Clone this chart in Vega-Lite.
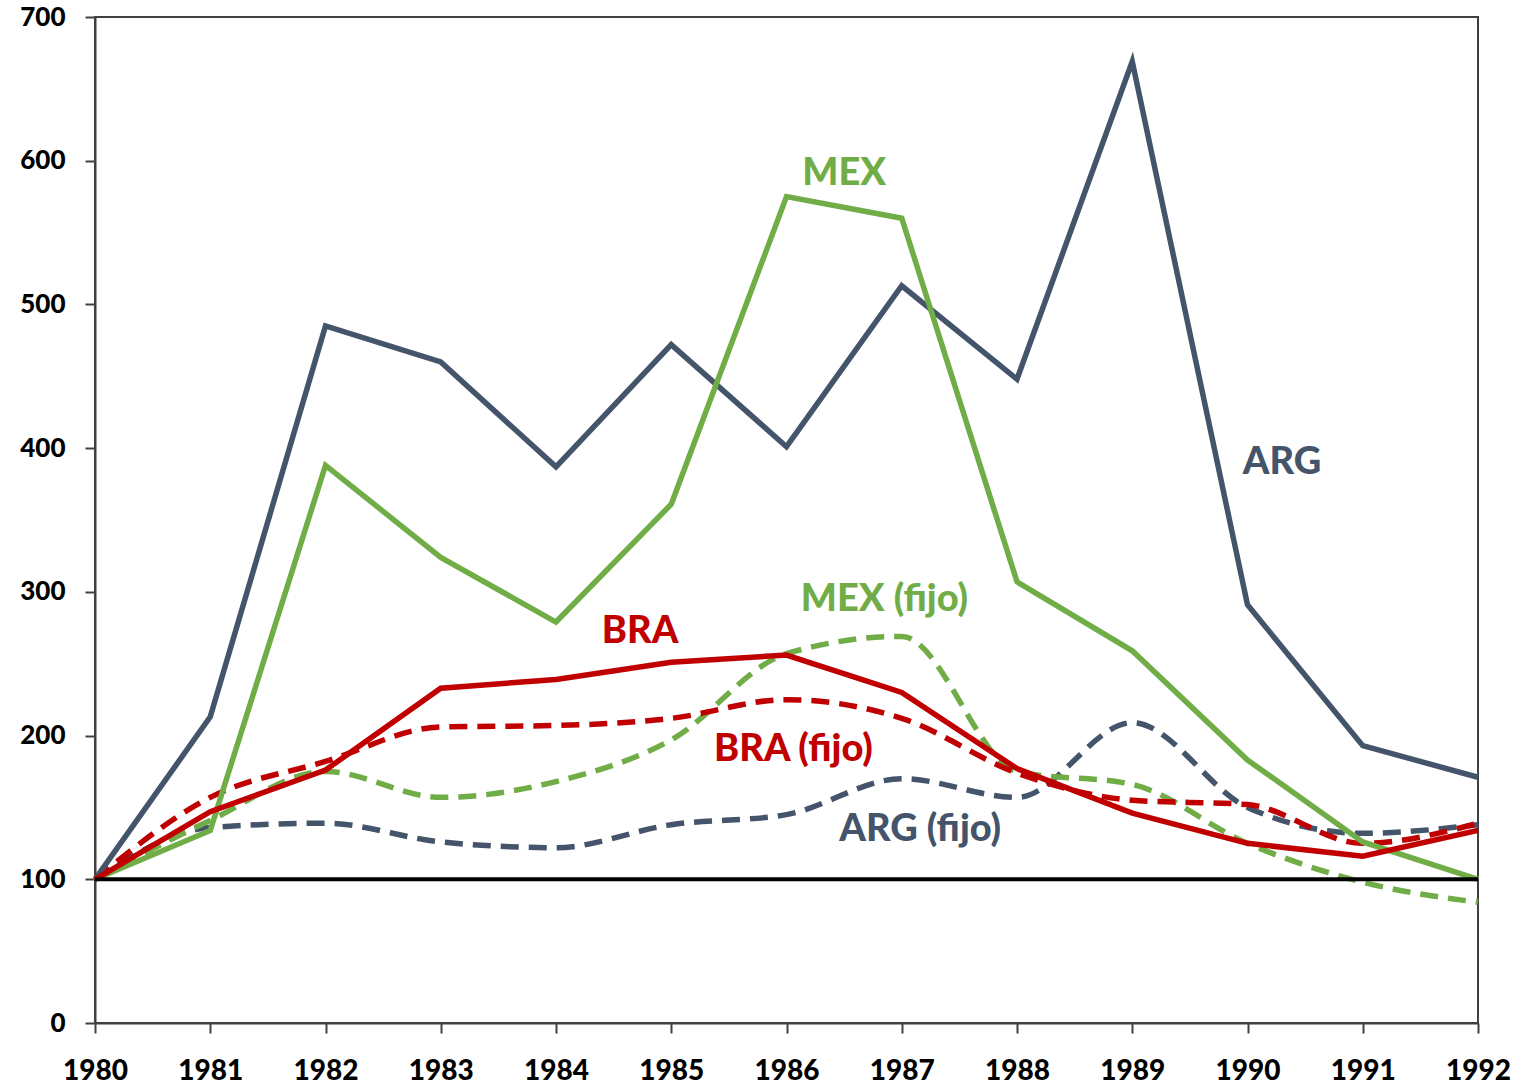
{
  "$schema": "https://vega.github.io/schema/vega-lite/v6.json",
  "width": 1383,
  "height": 1006,
  "autosize": {"type": "none"},
  "padding": {"left": 95, "top": 17, "right": 38, "bottom": 66},
  "background": "white",
  "config": {
    "view": {"stroke": "#404040", "strokeWidth": 2},
    "font": "Lato"
  },
  "datasets": {
    "series": [
      {"serie": "ARG", "tipo": "total", "year": 1980, "value": 100},
      {"serie": "ARG", "tipo": "total", "year": 1981, "value": 213},
      {"serie": "ARG", "tipo": "total", "year": 1982, "value": 485},
      {"serie": "ARG", "tipo": "total", "year": 1983, "value": 460},
      {"serie": "ARG", "tipo": "total", "year": 1984, "value": 387},
      {"serie": "ARG", "tipo": "total", "year": 1985, "value": 472},
      {"serie": "ARG", "tipo": "total", "year": 1986, "value": 401},
      {"serie": "ARG", "tipo": "total", "year": 1987, "value": 513},
      {"serie": "ARG", "tipo": "total", "year": 1988, "value": 448},
      {"serie": "ARG", "tipo": "total", "year": 1989, "value": 669},
      {"serie": "ARG", "tipo": "total", "year": 1990, "value": 291},
      {"serie": "ARG", "tipo": "total", "year": 1991, "value": 193},
      {"serie": "ARG", "tipo": "total", "year": 1992, "value": 171},
      {"serie": "MEX", "tipo": "total", "year": 1980, "value": 100},
      {"serie": "MEX", "tipo": "total", "year": 1981, "value": 134},
      {"serie": "MEX", "tipo": "total", "year": 1982, "value": 388},
      {"serie": "MEX", "tipo": "total", "year": 1983, "value": 324},
      {"serie": "MEX", "tipo": "total", "year": 1984, "value": 279},
      {"serie": "MEX", "tipo": "total", "year": 1985, "value": 361},
      {"serie": "MEX", "tipo": "total", "year": 1986, "value": 575},
      {"serie": "MEX", "tipo": "total", "year": 1987, "value": 560},
      {"serie": "MEX", "tipo": "total", "year": 1988, "value": 307},
      {"serie": "MEX", "tipo": "total", "year": 1989, "value": 259},
      {"serie": "MEX", "tipo": "total", "year": 1990, "value": 183},
      {"serie": "MEX", "tipo": "total", "year": 1991, "value": 126},
      {"serie": "MEX", "tipo": "total", "year": 1992, "value": 100},
      {"serie": "BRA", "tipo": "total", "year": 1980, "value": 100},
      {"serie": "BRA", "tipo": "total", "year": 1981, "value": 147},
      {"serie": "BRA", "tipo": "total", "year": 1982, "value": 176},
      {"serie": "BRA", "tipo": "total", "year": 1983, "value": 233},
      {"serie": "BRA", "tipo": "total", "year": 1984, "value": 239},
      {"serie": "BRA", "tipo": "total", "year": 1985, "value": 251},
      {"serie": "BRA", "tipo": "total", "year": 1986, "value": 256},
      {"serie": "BRA", "tipo": "total", "year": 1987, "value": 230},
      {"serie": "BRA", "tipo": "total", "year": 1988, "value": 177},
      {"serie": "BRA", "tipo": "total", "year": 1989, "value": 146},
      {"serie": "BRA", "tipo": "total", "year": 1990, "value": 125},
      {"serie": "BRA", "tipo": "total", "year": 1991, "value": 116},
      {"serie": "BRA", "tipo": "total", "year": 1992, "value": 134},
      {"serie": "ARG", "tipo": "fijo", "year": 1980, "value": 100},
      {"serie": "ARG", "tipo": "fijo", "year": 1981, "value": 136},
      {"serie": "ARG", "tipo": "fijo", "year": 1982, "value": 139},
      {"serie": "ARG", "tipo": "fijo", "year": 1983, "value": 126},
      {"serie": "ARG", "tipo": "fijo", "year": 1984, "value": 122},
      {"serie": "ARG", "tipo": "fijo", "year": 1985, "value": 138},
      {"serie": "ARG", "tipo": "fijo", "year": 1986, "value": 145},
      {"serie": "ARG", "tipo": "fijo", "year": 1987, "value": 170},
      {"serie": "ARG", "tipo": "fijo", "year": 1988, "value": 157},
      {"serie": "ARG", "tipo": "fijo", "year": 1989, "value": 209},
      {"serie": "ARG", "tipo": "fijo", "year": 1990, "value": 150},
      {"serie": "ARG", "tipo": "fijo", "year": 1991, "value": 132},
      {"serie": "ARG", "tipo": "fijo", "year": 1992, "value": 138},
      {"serie": "MEX", "tipo": "fijo", "year": 1980, "value": 100},
      {"serie": "MEX", "tipo": "fijo", "year": 1981, "value": 141},
      {"serie": "MEX", "tipo": "fijo", "year": 1982, "value": 175},
      {"serie": "MEX", "tipo": "fijo", "year": 1983, "value": 157},
      {"serie": "MEX", "tipo": "fijo", "year": 1984, "value": 168},
      {"serie": "MEX", "tipo": "fijo", "year": 1985, "value": 197},
      {"serie": "MEX", "tipo": "fijo", "year": 1986, "value": 257},
      {"serie": "MEX", "tipo": "fijo", "year": 1987, "value": 269},
      {"serie": "MEX", "tipo": "fijo", "year": 1988, "value": 175},
      {"serie": "MEX", "tipo": "fijo", "year": 1989, "value": 166},
      {"serie": "MEX", "tipo": "fijo", "year": 1990, "value": 125},
      {"serie": "MEX", "tipo": "fijo", "year": 1991, "value": 98},
      {"serie": "MEX", "tipo": "fijo", "year": 1992, "value": 84},
      {"serie": "BRA", "tipo": "fijo", "year": 1980, "value": 100},
      {"serie": "BRA", "tipo": "fijo", "year": 1981, "value": 157},
      {"serie": "BRA", "tipo": "fijo", "year": 1982, "value": 182},
      {"serie": "BRA", "tipo": "fijo", "year": 1983, "value": 206},
      {"serie": "BRA", "tipo": "fijo", "year": 1984, "value": 207},
      {"serie": "BRA", "tipo": "fijo", "year": 1985, "value": 212},
      {"serie": "BRA", "tipo": "fijo", "year": 1986, "value": 225},
      {"serie": "BRA", "tipo": "fijo", "year": 1987, "value": 212},
      {"serie": "BRA", "tipo": "fijo", "year": 1988, "value": 174},
      {"serie": "BRA", "tipo": "fijo", "year": 1989, "value": 155},
      {"serie": "BRA", "tipo": "fijo", "year": 1990, "value": 152},
      {"serie": "BRA", "tipo": "fijo", "year": 1991, "value": 125},
      {"serie": "BRA", "tipo": "fijo", "year": 1992, "value": 139}
    ],
    "labels": [
      {"serie": "MEX", "label": "MEX", "year": 1986.5, "value": 591},
      {"serie": "ARG", "label": "ARG", "year": 1990.3, "value": 390},
      {"serie": "MEX", "label": "MEX (fijo)", "year": 1986.85, "value": 294},
      {"serie": "BRA", "label": "BRA", "year": 1984.73, "value": 272},
      {"serie": "BRA", "label": "BRA (fijo)", "year": 1986.06, "value": 190},
      {"serie": "ARG", "label": "ARG (fijo)", "year": 1987.16, "value": 134}
    ]
  },
  "encoding": {
    "x": {
      "field": "year", "type": "quantitative",
      "scale": {"domain": [1980, 1992], "nice": false, "zero": false},
      "axis": {
        "title": null, "values": [1980,1981,1982,1983,1984,1985,1986,1987,1988,1989,1990,1991,1992],
        "format": "d", "grid": false, "domainColor": "#404040", "domainWidth": 2,
        "tickColor": "#404040", "tickWidth": 2, "tickSize": 10, "labelPadding": 24,
        "labelFont": "Lato", "labelFontSize": 28, "labelFontWeight": 900, "labelColor": "black",
        "labelOverlap": false, "labelFlush": false
      }
    },
    "y": {
      "field": "value", "type": "quantitative",
      "scale": {"domain": [0, 700], "nice": false},
      "axis": {
        "title": null, "values": [0,100,200,300,400,500,600,700],
        "grid": false, "domainColor": "#404040", "domainWidth": 2,
        "tickColor": "#404040", "tickWidth": 2, "tickSize": 10, "labelPadding": 20,
        "labelFont": "Lato", "labelFontSize": 26, "labelFontWeight": 900, "labelColor": "black"
      }
    },
    "color": {
      "field": "serie", "type": "nominal", "legend": null,
      "scale": {"domain": ["ARG", "MEX", "BRA"], "range": ["#44546A", "#70AD47", "#C00000"]}
    }
  },
  "layer": [
    {
      "data": {"name": "series"},
      "transform": [{"filter": "datum.tipo == 'fijo'"}],
      "mark": {"type": "line", "strokeWidth": 5.5, "strokeDash": [18, 10], "interpolate": "monotone"},
      "encoding": {"detail": {"field": "serie"}}
    },
    {
      "data": {"name": "series"},
      "transform": [{"filter": "datum.tipo == 'total'"}],
      "mark": {"type": "line", "strokeWidth": 5.5},
      "encoding": {"detail": {"field": "serie"}}
    },
    {
      "data": {"values": [{"ref": 100}]},
      "mark": {"type": "rule", "color": "black", "strokeWidth": 4},
      "encoding": {"y": {"field": "ref", "type": "quantitative"}, "x": {"value": 0}, "x2": {"value": 1383}, "color": {"value": "black"}}
    },
    {
      "data": {"name": "labels"},
      "mark": {"type": "text", "font": "Lato", "fontSize": 38, "fontWeight": 900, "align": "center", "baseline": "middle"},
      "encoding": {"text": {"field": "label"}}
    }
  ]
}
